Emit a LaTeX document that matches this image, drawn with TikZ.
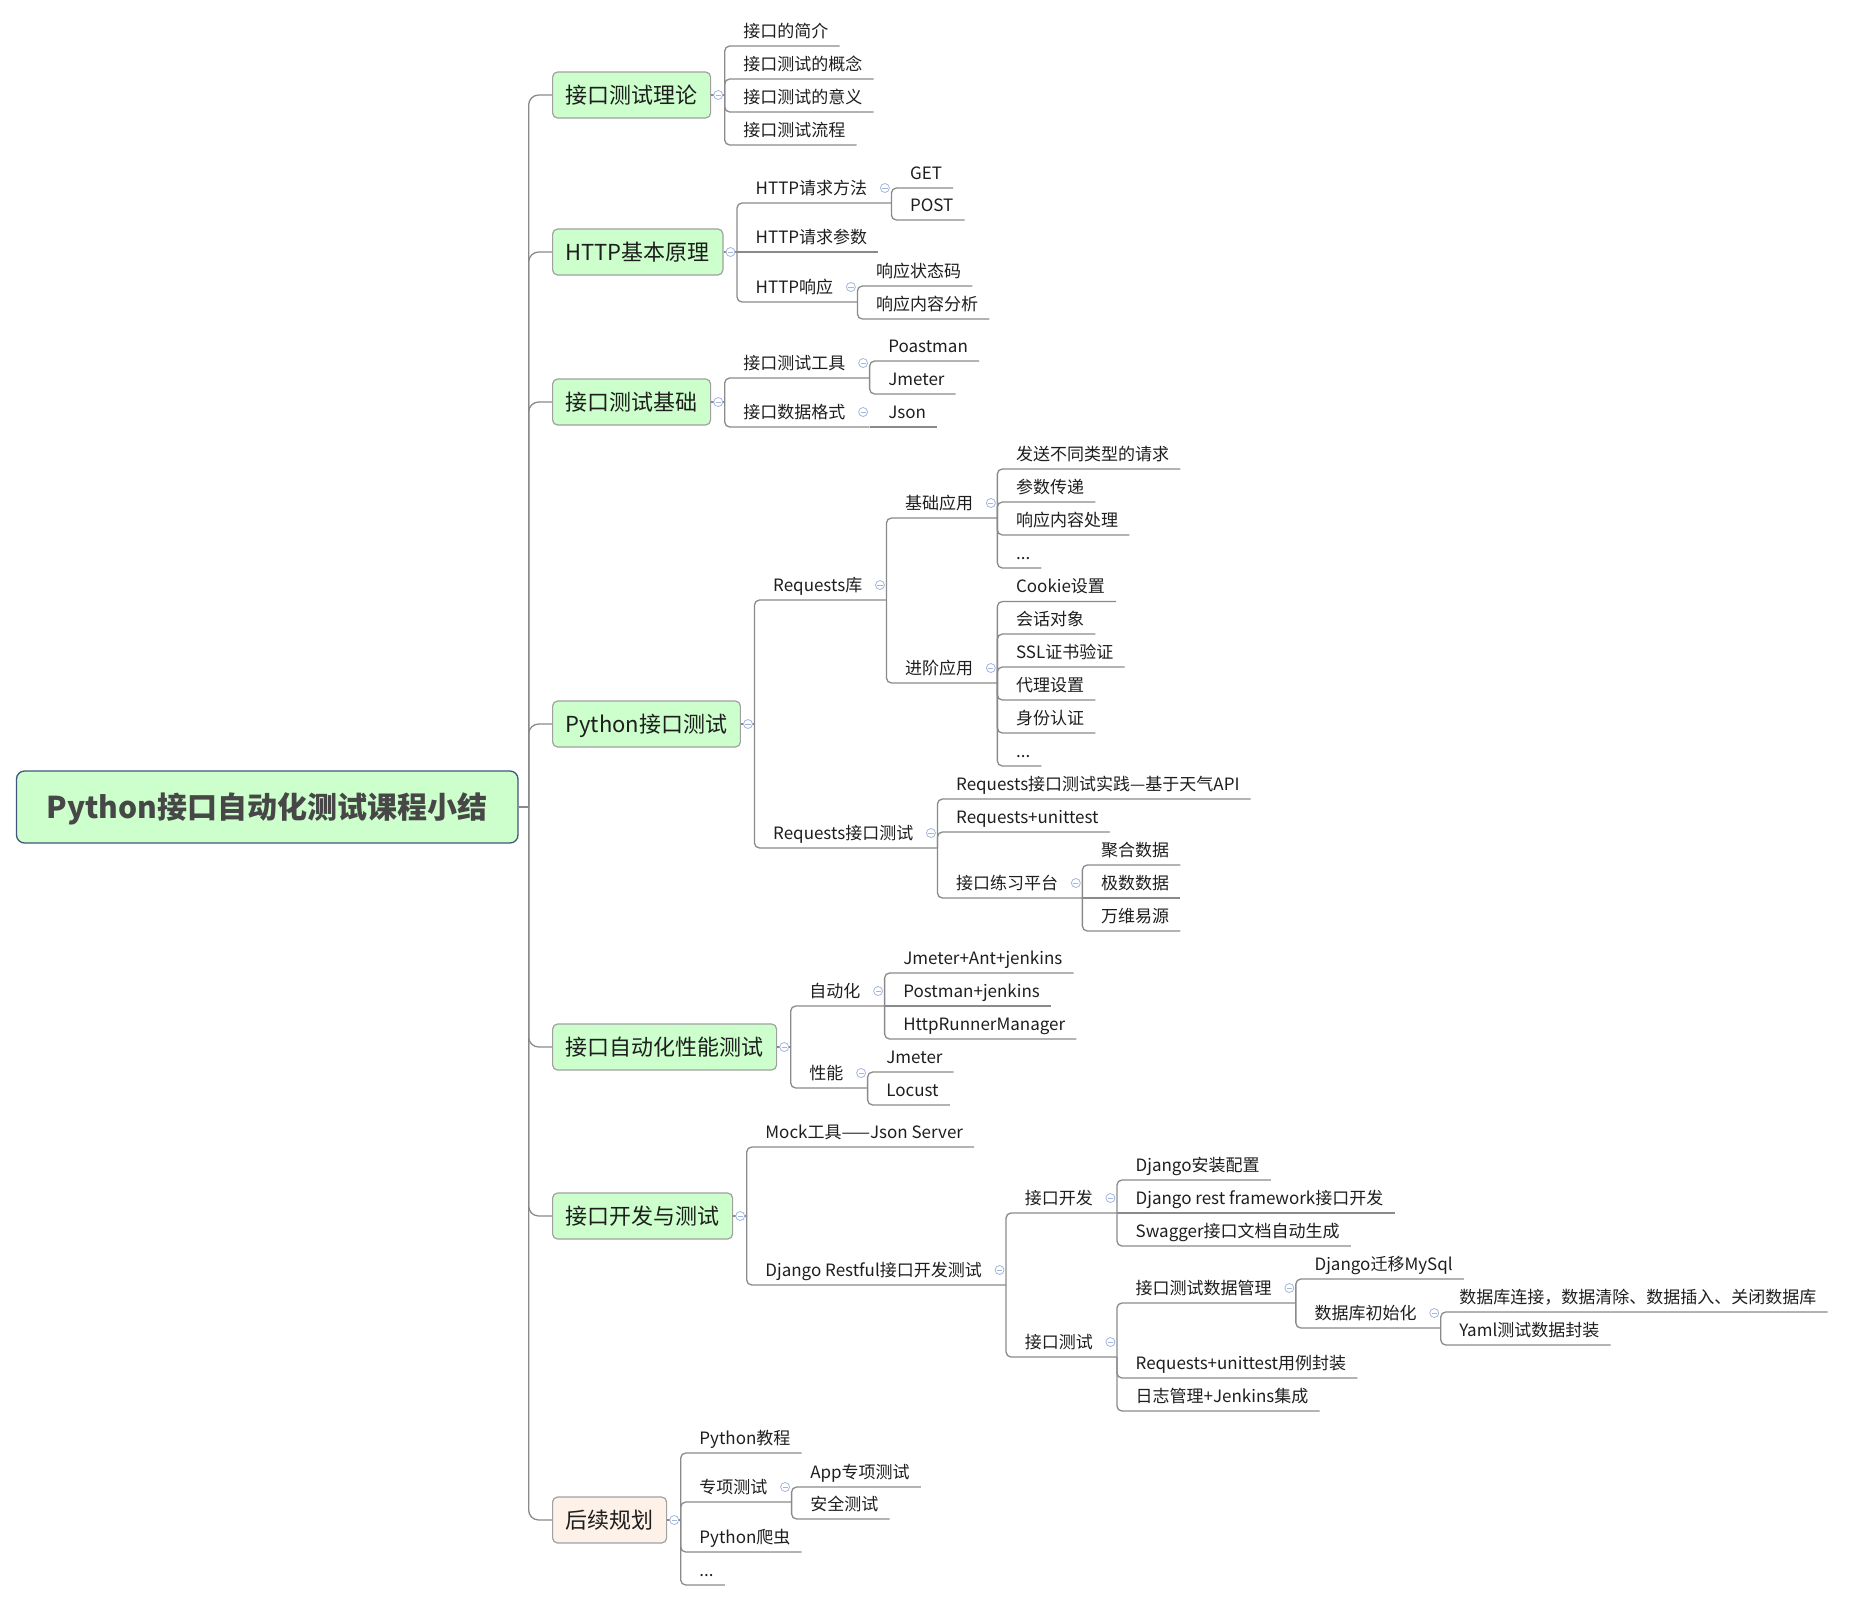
\documentclass[tikz,border=0pt]{standalone}
\usepackage{fontspec}
\setmainfont{Noto Sans CJK SC}
\usetikzlibrary{calc}

\definecolor{lnc}{HTML}{8A8A8A}
\definecolor{bxf}{HTML}{CCFFCC}
\definecolor{bxd}{HTML}{A0A0A0}
\definecolor{pch}{HTML}{FDF1E8}
\definecolor{rootd}{HTML}{43547E}
\definecolor{roottxt}{HTML}{474747}
\definecolor{txt}{HTML}{1E1E1E}
\definecolor{foldc}{HTML}{A3B6DD}

\tikzset{
  ln/.style={draw=lnc, line width=1.3pt},
  rc/.style={rounded corners=5pt},
  trunk/.style={ln, rounded corners=10pt},
  root/.style={draw=rootd, fill=bxf, rounded corners=8pt, line width=1.3pt,
    minimum width=501.5pt, minimum height=72pt, inner sep=0pt,
    font=\fontsize{30}{36}\selectfont\bfseries, text=roottxt,
    text height=26.4pt, text depth=3.6pt},
  bx/.style={anchor=west, draw=bxd, fill=bxf, rounded corners=5pt, line width=1.2pt,
    inner xsep=13pt, inner ysep=0pt, minimum height=46pt,
    text height=19.4pt, text depth=2.6pt,
    font=\fontsize{22}{26}\selectfont, text=txt},
  tpbase/.style={anchor=south west, inner sep=0pt, minimum height=30pt,
    text height=15pt, text depth=2pt,
    font=\fontsize{17}{20}\selectfont, text=txt,
    execute at begin node=\hspace*{18.5pt}},
  tl/.style={tpbase, execute at end node=\hspace*{11pt}},
  tq/.style={tpbase, execute at end node=\hspace*{24pt}},
  fold/.pic={
    \draw[foldc, fill=white, line width=0.8pt] (0,0) circle (4.5pt);
    \draw[foldc, line width=0.8pt] (-2.6,0) -- (2.6,0);
  }
}

\begin{document}
\begin{tikzpicture}[x=1pt,y=-1pt]
\useasboundingbox (0,0) rectangle (1850,1601);

% central topic
\node[root] (root) at (267.25,807) {Python接口自动化测试课程小结};
\coordinate (tj) at ($(root.east)+(10,0)$);

% main topics
\node[bx] (a) at (552,95) {接口测试理论};
\node[bx] (b) at (552,252) {HTTP基本原理};
\node[bx] (c) at (552,402) {接口测试基础};
\node[bx] (d) at (552,724) {Python接口测试};
\node[bx] (e) at (552,1047) {接口自动化性能测试};
\node[bx] (f) at (552,1216) {接口开发与测试};
\node[bx, fill=pch] (g) at (552,1520) {后续规划};

\draw[ln] (root.east) -- (tj);
\foreach \m in {a,b,c,d,e,f,g}{
  \draw[trunk] (tj) |- (\m.west);
}

\foreach \m in {a,b,c,d,e,f,g}{
  \coordinate (\m j) at ($(\m.east)+(13.5,0)$);
  \draw[ln] (\m.east) -- (\m j);
}

% --- 接口测试理论
\node[tl] (a1) at (aj |- 0,46) {接口的简介};
\node[tl] (a2) at (aj |- 0,79) {接口测试的概念};
\node[tl] (a3) at (aj |- 0,112) {接口测试的意义};
\node[tl] (a4) at (aj |- 0,145) {接口测试流程};
\foreach \n in {a1,a2,a3,a4} \draw[ln,rc] (aj) |- (\n.south east);

% --- HTTP基本原理
\node[tq] (b1) at (bj |- 0,203) {HTTP请求方法};
\node[tl] (b2) at (bj |- 0,252) {HTTP请求参数};
\node[tq] (b3) at (bj |- 0,302) {HTTP响应};
\draw[ln,rc] (bj) |- (b1.south east);
\draw[ln] (bj) -- (b2.south east);
\draw[ln,rc] (bj) |- (b3.south east);
\node[tl] (b11) at (b1.south east |- 0,188) {GET};
\node[tl] (b12) at (b1.south east |- 0,220) {POST};
\node[tl] (b31) at (b3.south east |- 0,286) {响应状态码};
\node[tl] (b32) at (b3.south east |- 0,319) {响应内容分析};
\foreach \p/\n in {b1/b11,b1/b12,b3/b31,b3/b32}
  \draw[ln,rc] (\p.south east) |- (\n.south east);

% --- 接口测试基础
\node[tq] (c1) at (cj |- 0,378) {接口测试工具};
\node[tq] (c2) at (cj |- 0,427) {接口数据格式};
\draw[ln,rc] (cj) |- (c1.south east);
\draw[ln,rc] (cj) |- (c2.south east);
\node[tl] (c11) at (c1.south east |- 0,361) {Poastman};
\node[tl] (c12) at (c1.south east |- 0,394) {Jmeter};
\node[tl] (c21) at (c2.south east) {Json};
\draw[ln,rc] (c1.south east) |- (c11.south east);
\draw[ln,rc] (c1.south east) |- (c12.south east);
\draw[ln] (c2.south east) -- (c21.south east);

% --- Python接口测试
\node[tq] (d1) at (dj |- 0,600) {Requests库};
\node[tq] (d2) at (dj |- 0,848) {Requests接口测试};
\draw[ln,rc] (dj) |- (d1.south east);
\draw[ln,rc] (dj) |- (d2.south east);
\node[tq] (d11) at (d1.south east |- 0,518) {基础应用};
\node[tq] (d12) at (d1.south east |- 0,683) {进阶应用};
\draw[ln,rc] (d1.south east) |- (d11.south east);
\draw[ln,rc] (d1.south east) |- (d12.south east);
\node[tl] (d111) at (d11.south east |- 0,469) {发送不同类型的请求};
\node[tl] (d112) at (d11.south east |- 0,502) {参数传递};
\node[tl] (d113) at (d11.south east |- 0,535) {响应内容处理};
\node[tl] (d114) at (d11.south east |- 0,568) {...};
\foreach \n in {d111,d112,d113,d114} \draw[ln,rc] (d11.south east) |- (\n.south east);
\node[tl] (d121) at (d12.south east |- 0,601.5) {Cookie设置};
\node[tl] (d122) at (d12.south east |- 0,634) {会话对象};
\node[tl] (d123) at (d12.south east |- 0,667) {SSL证书验证};
\node[tl] (d124) at (d12.south east |- 0,700) {代理设置};
\node[tl] (d125) at (d12.south east |- 0,733) {身份认证};
\node[tl] (d126) at (d12.south east |- 0,766) {...};
\foreach \n in {d121,d122,d123,d124,d125,d126} \draw[ln,rc] (d12.south east) |- (\n.south east);
\node[tl] (d21) at (d2.south east |- 0,799) {Requests接口测试实践—基于天气API};
\node[tl] (d22) at (d2.south east |- 0,832) {Requests+unittest};
\node[tq] (d23) at (d2.south east |- 0,898) {接口练习平台};
\foreach \n in {d21,d22,d23} \draw[ln,rc] (d2.south east) |- (\n.south east);
\node[tl] (d231) at (d23.south east |- 0,865) {聚合数据};
\node[tl] (d232) at (d23.south east) {极数数据};
\node[tl] (d233) at (d23.south east |- 0,931) {万维易源};
\draw[ln,rc] (d23.south east) |- (d231.south east);
\draw[ln] (d23.south east) -- (d232.south east);
\draw[ln,rc] (d23.south east) |- (d233.south east);

% --- 接口自动化性能测试
\node[tq] (e1) at (ej |- 0,1006) {自动化};
\node[tq] (e2) at (ej |- 0,1088) {性能};
\draw[ln,rc] (ej) |- (e1.south east);
\draw[ln,rc] (ej) |- (e2.south east);
\node[tl] (e11) at (e1.south east |- 0,973) {Jmeter+Ant+jenkins};
\node[tl] (e12) at (e1.south east) {Postman+jenkins};
\node[tl] (e13) at (e1.south east |- 0,1039) {HttpRunnerManager};
\draw[ln,rc] (e1.south east) |- (e11.south east);
\draw[ln] (e1.south east) -- (e12.south east);
\draw[ln,rc] (e1.south east) |- (e13.south east);
\node[tl] (e21) at (e2.south east |- 0,1072) {Jmeter};
\node[tl] (e22) at (e2.south east |- 0,1105) {Locust};
\draw[ln,rc] (e2.south east) |- (e21.south east);
\draw[ln,rc] (e2.south east) |- (e22.south east);

% --- 接口开发与测试
\node[tl] (f1) at (fj |- 0,1147) {Mock工具——Json Server};
\node[tq] (f2) at (fj |- 0,1285) {Django Restful接口开发测试};
\draw[ln,rc] (fj) |- (f1.south east);
\draw[ln,rc] (fj) |- (f2.south east);
\node[tq] (f21) at (f2.south east |- 0,1213) {接口开发};
\node[tq] (f22) at (f2.south east |- 0,1357) {接口测试};
\draw[ln,rc] (f2.south east) |- (f21.south east);
\draw[ln,rc] (f2.south east) |- (f22.south east);
\node[tl] (f211) at (f21.south east |- 0,1180) {Django安装配置};
\node[tl] (f212) at (f21.south east) {Django rest framework接口开发};
\node[tl] (f213) at (f21.south east |- 0,1246) {Swagger接口文档自动生成};
\draw[ln,rc] (f21.south east) |- (f211.south east);
\draw[ln] (f21.south east) -- (f212.south east);
\draw[ln,rc] (f21.south east) |- (f213.south east);
\node[tq] (f221) at (f22.south east |- 0,1303) {接口测试数据管理};
\node[tl] (f222) at (f22.south east |- 0,1378) {Requests+unittest用例封装};
\node[tl] (f223) at (f22.south east |- 0,1411) {日志管理+Jenkins集成};
\foreach \n in {f221,f222,f223} \draw[ln,rc] (f22.south east) |- (\n.south east);
\node[tl] (f2211) at (f221.south east |- 0,1279) {Django迁移MySql};
\node[tq] (f2212) at (f221.south east |- 0,1328) {数据库初始化};
\draw[ln,rc] (f221.south east) |- (f2211.south east);
\draw[ln,rc] (f221.south east) |- (f2212.south east);
\node[tl] (f22121) at (f2212.south east |- 0,1312) {数据库连接，数据清除、数据插入、关闭数据库};
\node[tl] (f22122) at (f2212.south east |- 0,1345) {Yaml测试数据封装};
\draw[ln,rc] (f2212.south east) |- (f22121.south east);
\draw[ln,rc] (f2212.south east) |- (f22122.south east);

% --- 后续规划
\node[tl] (g1) at (gj |- 0,1453) {Python教程};
\node[tq] (g2) at (gj |- 0,1502) {专项测试};
\node[tl] (g3) at (gj |- 0,1552) {Python爬虫};
\node[tl] (g4) at (gj |- 0,1585) {...};
\foreach \n in {g1,g2,g3,g4} \draw[ln,rc] (gj) |- (\n.south east);
\node[tl] (g21) at (g2.south east |- 0,1487) {App专项测试};
\node[tl] (g22) at (g2.south east |- 0,1519) {安全测试};
\draw[ln,rc] (g2.south east) |- (g21.south east);
\draw[ln,rc] (g2.south east) |- (g22.south east);

% collapse buttons
\foreach \m in {a,b,c,d,e,f,g} \pic at ($(\m.east)+(7,0)$) {fold};
\foreach \n in {b1,b3,c1,c2,d1,d2,d11,d12,d23,e1,e2,f2,f21,f22,f221,f2212,g2}
  \pic at ($(\n.south east)+(-6.5,-15)$) {fold};
\end{tikzpicture}
\end{document}
